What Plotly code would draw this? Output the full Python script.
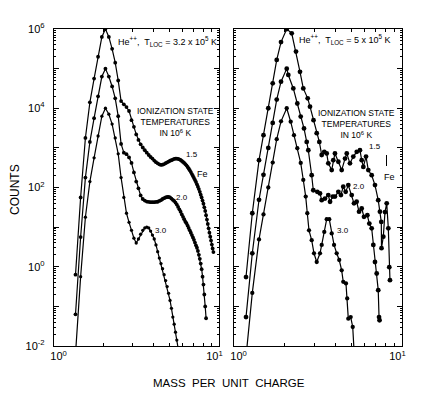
import numpy as np
import plotly.graph_objects as go
from plotly.subplots import make_subplots

# ---------------- data (M/Q and log10 counts) ----------------
# Left panel: He++, T_LOC = 3.2 x 10^5 K
L_MQ_15 = [1.35, 1.45, 1.55, 1.65, 1.75, 1.85, 1.95, 2.05, 2.15, 2.25, 2.35, 2.45, 2.55, 2.65, 2.75, 2.85,
           2.95, 3.05, 3.15, 3.25, 3.35, 3.45, 3.55, 3.65, 3.75, 3.85, 3.95, 4.05, 4.15, 4.25, 4.35, 4.45,
           4.55, 4.65, 4.75, 4.85, 4.95, 5.05, 5.15, 5.25, 5.35, 5.45, 5.55, 5.65, 5.75, 5.85, 5.95, 6.05,
           6.15, 6.25, 6.35, 6.45, 6.55, 6.65, 6.75, 6.85, 6.95, 7.05, 7.15, 7.25, 7.35, 7.45, 7.55, 7.65,
           7.75, 7.85, 7.95, 8.05, 8.15, 8.25, 8.35, 8.45, 8.55, 8.65, 8.75, 8.85, 8.95, 9.05, 9.15, 9.25]
L_LOG_15 = [-0.2, 1.75, 3.25, 4.15, 4.75, 5.3, 5.8, 6.0, 5.8, 5.5, 5.15, 4.7, 4.18, 4.10, 4.03, 3.93,
            3.70, 3.53, 3.34, 3.20, 3.09, 3.01, 2.94, 2.88, 2.82, 2.77, 2.73, 2.68, 2.64, 2.61, 2.585, 2.57,
            2.575, 2.59, 2.615, 2.635, 2.655, 2.675, 2.69, 2.705, 2.72, 2.73, 2.73, 2.72, 2.71, 2.695, 2.67, 2.645,
            2.62, 2.59, 2.56, 2.52, 2.48, 2.435, 2.39, 2.34, 2.29, 2.24, 2.19, 2.14, 2.08, 2.02, 1.96, 1.89,
            1.82, 1.75, 1.67, 1.59, 1.50, 1.41, 1.30, 1.19, 1.08, 0.97, 0.86, 0.76, 0.66, 0.56, 0.46, 0.37]

L_MQ_20 = [1.35, 1.45, 1.55, 1.65, 1.75, 1.85, 1.95, 2.05, 2.15, 2.25, 2.35, 2.45, 2.55, 2.65, 2.75, 2.85,
           2.95, 3.05, 3.15, 3.25, 3.35, 3.45, 3.55, 3.65, 3.75, 3.85, 3.95, 4.05, 4.15, 4.25, 4.35, 4.45,
           4.55, 4.65, 4.75, 4.85, 4.95, 5.05, 5.15, 5.25, 5.35, 5.45, 5.55, 5.65, 5.75, 5.85, 5.95, 6.05,
           6.15, 6.25, 6.35, 6.45, 6.55, 6.65, 6.75, 6.85, 6.95, 7.05, 7.15, 7.25, 7.35, 7.45, 7.55, 7.65,
           7.75, 7.85, 7.95, 8.05, 8.15, 8.25, 8.35]
L_LOG_20 = [-1.2, 0.75, 2.25, 3.15, 3.75, 4.3, 4.8, 5.0, 4.8, 4.55, 4.25, 3.8, 3.1, 2.88, 2.84, 2.76,
            2.62, 2.38, 2.15, 1.98, 1.80, 1.71, 1.67, 1.645, 1.635, 1.63, 1.63, 1.63, 1.635, 1.64, 1.66, 1.68,
            1.71, 1.73, 1.75, 1.76, 1.76, 1.75, 1.72, 1.69, 1.66, 1.62, 1.57, 1.51, 1.45, 1.39, 1.32, 1.26,
            1.20, 1.14, 1.10, 1.04, 0.98, 0.92, 0.86, 0.80, 0.74, 0.68, 0.61, 0.54, 0.48, 0.40, 0.30, 0.20,
            0.08, -0.06, -0.25, -0.45, -0.70, -1.00, -1.30]

L_MQ_30 = [1.35, 1.45, 1.55, 1.65, 1.75, 1.85, 1.95, 2.05, 2.15, 2.25, 2.35, 2.45, 2.55, 2.65, 2.75, 2.85,
           2.95, 3.05, 3.15, 3.25, 3.35, 3.45, 3.55, 3.65, 3.75, 3.85, 3.95, 4.05, 4.15, 4.25, 4.35, 4.45,
           4.55, 4.65, 4.75, 4.85, 4.95, 5.05, 5.15, 5.25, 5.35, 5.45, 5.55, 5.65]
L_LOG_30 = [-2.2, -0.25, 1.25, 2.15, 2.75, 3.3, 3.8, 4.0, 3.85, 3.6, 3.25, 2.85, 2.25, 1.75, 1.35, 1.12,
            0.92, 0.72, 0.60, 0.70, 0.82, 0.92, 0.98, 1.0, 0.98, 0.90, 0.80, 0.70, 0.55, 0.38, 0.22, 0.08,
            -0.05, -0.20, -0.35, -0.50, -0.67, -0.85, -1.05, -1.27, -1.45, -1.65, -1.85, -2.05]

# Right panel: He++, T_LOC = 5 x 10^5 K
R_MQ_15 = [1.179, 1.285, 1.409, 1.498, 1.600, 1.700, 1.796, 1.905, 2.060, 2.206, 2.339, 2.471, 2.585, 2.746,
           2.834, 2.973, 3.107, 3.221, 3.327, 3.447, 3.563, 3.642, 3.815, 3.90, 3.99, 4.18, 4.375, 4.58, 4.69,
           4.90, 5.13, 5.38, 5.62, 5.755, 5.886, 6.107, 6.30, 6.60, 6.905, 7.22, 7.39, 7.53, 7.55, 7.74, 7.92,
           8.11, 8.29, 8.40, 8.48]
R_LOG_15 = [-0.26, 1.35, 2.69, 3.32, 4.0, 4.63, 5.22, 5.67, 6.0, 5.89, 5.43, 4.92, 4.50, 4.25,
            4.04, 3.70, 3.37, 3.15, 2.82, 2.90, 2.86, 2.61, 2.44, 2.69, 2.86, 2.65, 2.44, 2.73, 2.86,
            2.61, 2.78, 2.90, 2.94, 2.69, 2.52, 2.78, 2.44, 2.31, 2.06, 1.68, 1.39, 1.13, 0.47, 0.76, 1.38,
            1.60, 0.97, -0.01, -0.34]

R_MQ_20 = [1.179, 1.285, 1.409, 1.498, 1.600, 1.700, 1.796, 1.905, 2.060, 2.105, 2.254, 2.381, 2.495, 2.61,
           2.709, 2.769, 2.90, 2.965, 3.132, 3.25, 3.327, 3.48, 3.64, 3.73, 3.87, 3.99, 4.18, 4.33, 4.47,
           4.62, 4.79, 5.02, 5.18, 5.37, 5.55, 5.755, 5.94, 6.22, 6.39, 6.60, 6.75, 6.905, 7.07, 7.22,
           7.30, 7.35]
R_LOG_20 = [-1.27, 0.34, 1.69, 2.32, 3.0, 3.63, 4.22, 4.67, 5.0, 4.84, 4.50, 4.12, 3.79, 3.49,
            3.15, 2.94, 2.31, 1.93, 1.89, 1.85, 1.68, 1.72, 1.81, 1.64, 1.77, 1.77, 1.89, 1.81, 2.02,
            1.89, 2.06, 1.81, 1.60, 1.64, 1.39, 1.47, 1.26, 1.30, 1.09, 0.97, 0.55, 0.12, -0.17, -0.59,
            -1.27, -1.35]

R_MQ_30 = [1.179, 1.285, 1.409, 1.498, 1.600, 1.700, 1.796, 1.905, 2.060, 2.175, 2.275, 2.381, 2.495, 2.585,
           2.672, 2.731, 2.795, 2.90, 2.993, 3.107, 3.25, 3.327, 3.447, 3.563, 3.69, 3.815, 3.94, 4.085,
           4.23, 4.375, 4.47, 4.64, 4.72, 4.79, 4.95, 5.09, 5.18]
R_LOG_30 = [-2.27, -0.66, 0.69, 1.32, 2.0, 2.63, 3.22, 3.67, 4.0, 3.66, 3.32, 2.99, 2.62, 2.19,
            1.77, 1.35, 0.92, 0.67, 0.34, 0.12, 0.34, 0.55, 0.88, 1.2, 1.2, 0.84, 0.55, 0.34,
            0.17, -0.09, -0.38, -0.42, -0.80, -1.31, -1.27, -1.52, -2.1]

Y_TICK_EXP = [-2, -1, 0, 1, 2, 3, 4, 5, 6]
Y_LABEL_EXP = [-2, 0, 2, 4, 6]
X_TICK_EXP = [0, 1]

# ---------------- figure ----------------
# the page body adds an 8 px margin, so the figure is laid out in page pixels minus 8
OFF = 8
W, H = 434 - OFF, 398 - OFF
PL, PR, PT, PB = 54, 402, 29, 346          # plot box in page pixels
ML, MR, MT, MB = PL - OFF, W - (PR - OFF), PT - OFF, H - (PB - OFF)
PW, PH = W - ML - MR, H - MT - MB

def px(x):
    return (x - OFF - ML) / PW

def py(y):
    return (H - MB - (y - OFF)) / PH

FONT = "Liberation Sans, Arial, Helvetica, sans-serif"

fig = make_subplots(rows=1, cols=2, horizontal_spacing=0.0)
fig.update_layout(xaxis=dict(domain=[0, px(219)]), xaxis2=dict(domain=[px(234), 1]))

def add_curve(mq, logc, col, size):
    fig.add_trace(go.Scatter(x=mq, y=np.power(10.0, logc), mode="lines+markers",
                             line=dict(color="black", width=1.2),
                             marker=dict(color="black", size=size, symbol="circle", line=dict(width=0)),
                             showlegend=False, cliponaxis=True), row=1, col=col)

add_curve(L_MQ_15, L_LOG_15, 1, 3.8)
add_curve(L_MQ_20, L_LOG_20, 1, 3.8)
add_curve(L_MQ_30, L_LOG_30, 1, 3.3)
add_curve(R_MQ_15, R_LOG_15, 2, 4.8)
add_curve(R_MQ_20, R_LOG_20, 2, 4.8)
add_curve(R_MQ_30, R_LOG_30, 2, 4.3)

ytickvals = [10.0 ** e for e in Y_TICK_EXP]
yticktext = [("10<sup>%d</sup>" % e) if e in Y_LABEL_EXP else " " for e in Y_TICK_EXP]
yminor = [k * 10.0 ** e for e in Y_TICK_EXP[:-1] for k in range(2, 10)]
xtickvals = [10.0 ** e for e in X_TICK_EXP]
xticktext = ["&nbsp;&nbsp;&nbsp;10<sup>0</sup>", "10<sup>1</sup>&nbsp;&nbsp;&nbsp;"]
xminor = [float(k) for k in range(2, 10)]

axis_common = dict(showline=True, linecolor="black", linewidth=1.3, mirror="ticks",
                   ticks="inside", tickcolor="black", tickwidth=1, showgrid=False, zeroline=False,
                   tickfont=dict(family=FONT, size=11, color="black"))

for c in (1, 2):
    fig.update_xaxes(type="log", range=[0, 1], tickmode="array", tickvals=xtickvals, ticktext=xticktext,
                     ticklen=5, minor=dict(tickmode="array", tickvals=xminor, ticks="inside", ticklen=3,
                                           tickcolor="black", showgrid=False),
                     row=1, col=c, **axis_common)
    fig.update_yaxes(type="log", range=[-2, 6], tickmode="array", tickvals=ytickvals, ticktext=yticktext,
                     ticklen=5, showticklabels=(c == 1), ticklabelstandoff=6,
                     minor=dict(tickmode="array", tickvals=yminor, ticks="inside", ticklen=2,
                                tickcolor="black", showgrid=False),
                     row=1, col=c, **axis_common)

ann = []
def text(x, y, s, size=8.5, xanchor="center"):
    ann.append(dict(x=px(x), y=py(y), xref="paper", yref="paper", text=s, showarrow=False,
                    xanchor=xanchor, yanchor="middle", font=dict(family=FONT, size=size, color="black")))

# left panel labels
text(116, 42, "He<sup>++</sup>,  T<sub>LOC</sub> = 3.2 x 10<sup>5</sup> K", 9, "left")
text(175, 122, "IONIZATION STATE<br>TEMPERATURES<br>IN 10<sup>6</sup> K", 8.5)
text(192, 154, "1.5", 8)
text(202, 174, "Fe", 9)
text(182, 197, "2.0", 8)
text(161, 230, "3.0", 8)
# right panel labels
text(297, 39, "He<sup>++</sup>,  T<sub>LOC</sub> = 5 x 10<sup>5</sup> K", 9, "left")
text(356, 124, "IONIZATION STATE<br>TEMPERATURES<br>IN 10<sup>6</sup> K", 8.5)
text(375, 146, "1.5", 8)
text(389, 177, "Fe", 9)
text(359, 186, "2.0", 8)
text(343, 230, "3.0", 8)
# axis titles
text(229, 383, "MASS&nbsp;&nbsp;PER&nbsp;&nbsp;UNIT&nbsp;&nbsp;CHARGE", 11.5)
ann.append(dict(x=px(15), y=py(190), xref="paper", yref="paper", text="COUNTS", showarrow=False,
                textangle=-90, xanchor="center", yanchor="middle",
                font=dict(family=FONT, size=12, color="black")))

fig.update_layout(
    width=W, height=H,
    margin=dict(l=ML, r=MR, t=MT, b=MB, pad=0),
    paper_bgcolor="white", plot_bgcolor="white",
    annotations=ann,
    shapes=[dict(type="line", xref="paper", yref="paper", x0=px(386.5), x1=px(386.5),
                 y0=py(155), y1=py(166), line=dict(color="black", width=1))],
    font=dict(family=FONT, color="black"),
)

fig.write_html("out.html")
